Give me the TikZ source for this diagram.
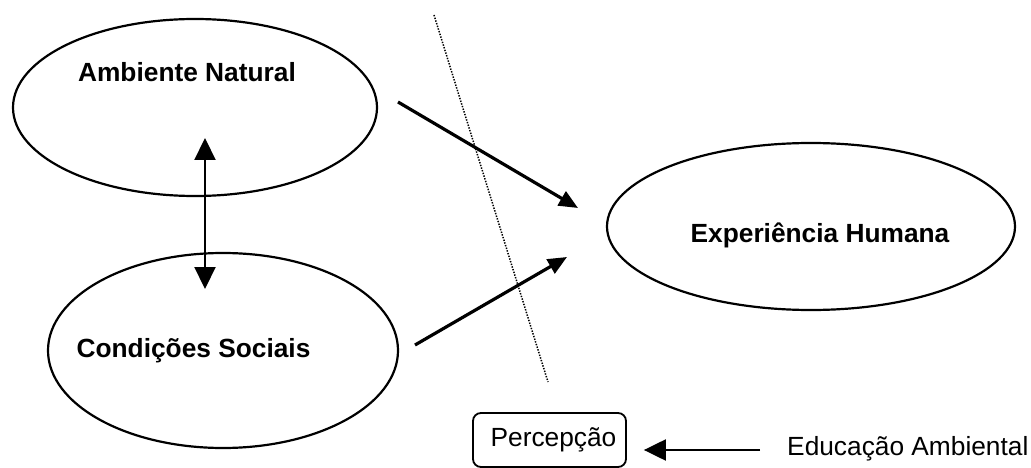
\documentclass[tikz,border=0pt]{standalone}
\usepackage{fontspec}
\setmainfont{Liberation Sans}
\usetikzlibrary{arrows.meta,shapes.geometric}

\begin{document}
\begin{tikzpicture}[x=1pt, y=-1pt,
  every node/.style={font=\fontsize{26.3}{30}\selectfont},
  oval/.style={draw, ellipse, line width=2.2pt, inner sep=0pt, outer sep=0pt},
  lbl/.style={font=\fontsize{26.3}{30}\selectfont\bfseries, inner sep=0pt, anchor=base},
  plain/.style={inner sep=0pt},
  pbox/.style={draw, rounded corners=8pt, line width=1.8pt, inner sep=0pt},
  flow/.style={line width=3.2pt, -{Triangle[length=19pt,width=16pt]}},
  both/.style={line width=2.2pt, {Triangle[length=22pt,width=21pt]}-{Triangle[length=22pt,width=21pt]}},
  feed/.style={line width=2.2pt, -{Triangle[length=22pt,width=21pt]}},
  divide/.style={line width=1.5pt, dash pattern=on 1.4pt off 1.4pt}
]
\useasboundingbox (0,0) rectangle (1031,468);

% the three ellipses
\node[oval, minimum width=364pt, minimum height=177pt] (nat) at (195,107.5) {};
\node[oval, minimum width=350pt, minimum height=195pt] (soc) at (223,350.5) {};
\node[oval, minimum width=408pt, minimum height=167pt] (exp) at (811,226.5) {};

% their labels
\node[lbl] (natT) at (187,82) {Ambiente Natural};
\node[lbl] (socT) at (193.5,357) {Condições Sociais};
\node[lbl] (expT) at (820,242) {Experiência Humana};

% mutual influence between nature and society
\coordinate (vt) at (205,138);
\coordinate (vb) at (205,289);
\draw[both] (vt) -- (vb);

% both feed human experience
\coordinate (a1s) at (398,102);
\coordinate (a1e) at (578,208);
\coordinate (a2s) at (415,345);
\coordinate (a2e) at (567,257);
\draw[flow] (a1s) -- (a1e);
\draw[flow] (a2s) -- (a2e);

% dotted dividing line
\coordinate (d1) at (434,15);
\coordinate (d2) at (548,382);
\draw[divide] (d1) -- (d2);

% perception and environmental education
\node[pbox, minimum width=153pt, minimum height=54pt] (perc) at (549.5,440) {\hspace{8pt}Percepção};
\node[plain, anchor=base west] (edu) at (787,455) {Educação Ambiental};
\draw[feed, shorten <=27pt, shorten >=17pt] (edu.west |- 0,450) -- (perc.east |- 0,450);
\end{tikzpicture}
\end{document}
